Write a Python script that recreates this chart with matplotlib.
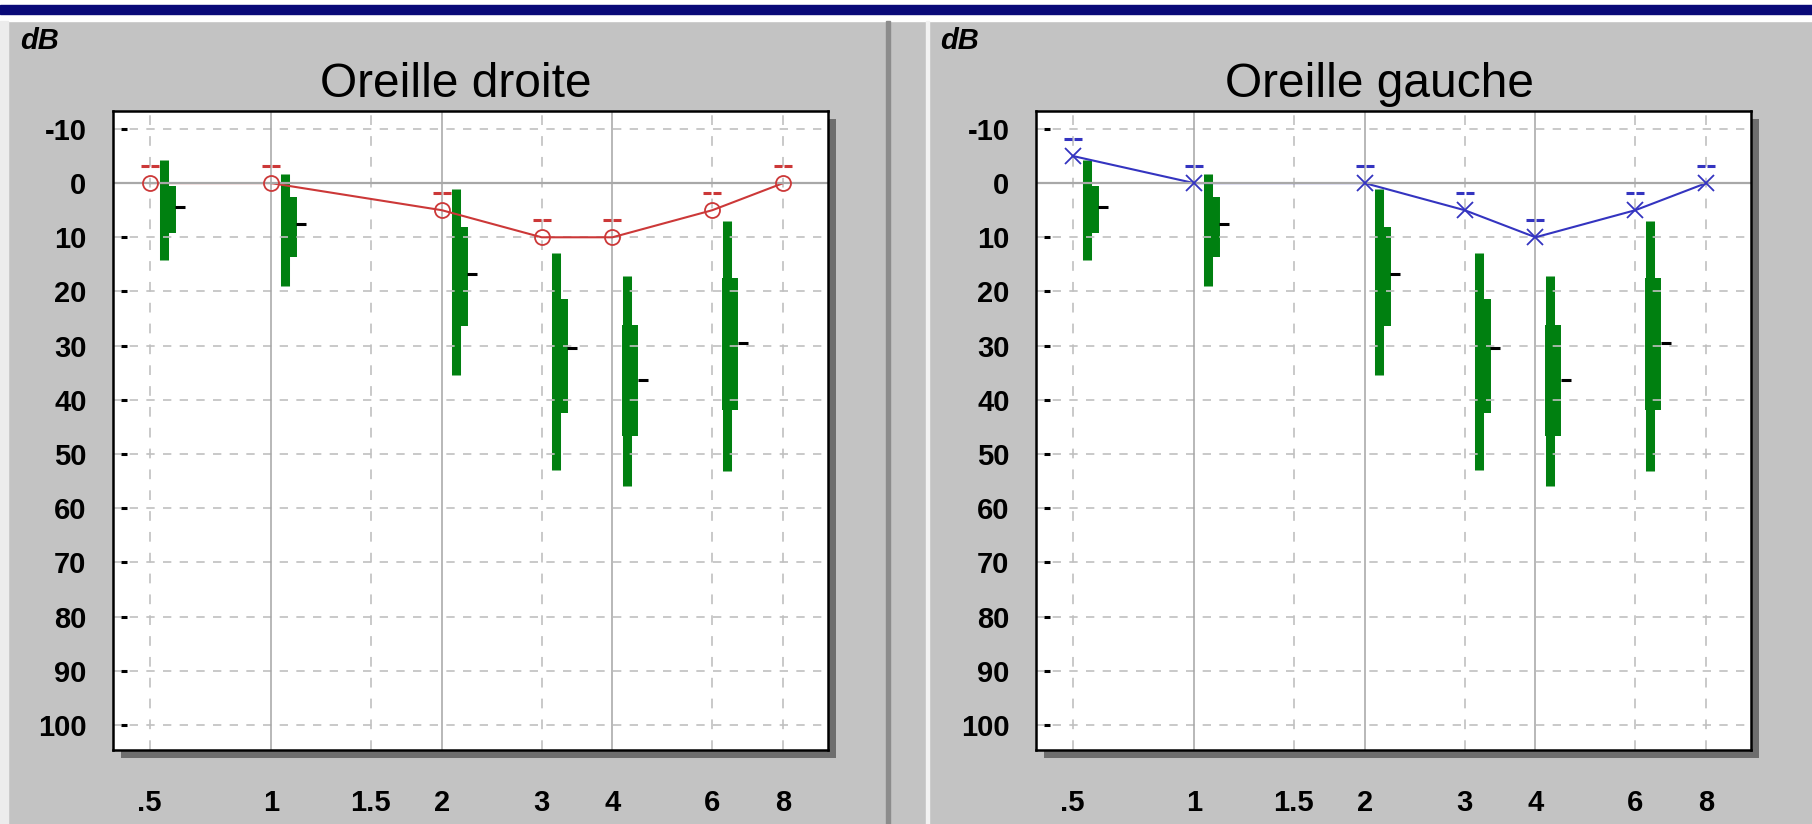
import numpy as np
import matplotlib
matplotlib.use('Agg')
import matplotlib.pyplot as plt
import matplotlib.patheffects as pe
from matplotlib import transforms
from matplotlib.path import Path
from matplotlib.patches import Rectangle

plt.rcParams['font.family'] = ['Liberation Sans', 'DejaVu Sans']
plt.rcParams['lines.scale_dashes'] = False

# fréquences (kHz) et seuils mesurés (dB)
freqs = [0.5, 1, 2, 3, 4, 6, 8]
droite_db = [0, 0, 5, 10, 10, 5, 0]     # oreille droite (rouge, O)
gauche_db = [-5, 0, 0, 5, 10, 5, 0]     # oreille gauche (bleu, X)

# axes
tick_freqs = [0.5, 1, 1.5, 2, 3, 4, 6, 8]
tick_labels = ['.5', '1', '1.5', '2', '3', '4', '6', '8']
octave_freqs = [1, 2, 4]
db_ticks = [-10, 0, 10, 20, 30, 40, 50, 60, 70, 80, 90, 100]
db_labels = ['-10', '0', '10', '20', '30', '40', '50', '60', '70', '80', '90', '100']

# normes (barres vertes): extrêmes, quartiles, médiane
norm_freqs = [0.5, 1, 2, 3, 4, 6]
norm_min = [-4.3, -1.6, 1.1, 12.9, 17.2, 7.0]
norm_max = [14.2, 19.0, 35.5, 53.0, 55.8, 53.1]
norm_q1 = [0.5, 2.6, 8.1, 21.4, 26.1, 17.6]
norm_q3 = [9.3, 13.6, 26.3, 42.5, 46.7, 41.9]
norm_med = [4.5, 7.6, 16.7, 30.4, 36.4, 29.5]

W, H = 1812, 824
GRAY = '#c3c3c3'
GREEN = '#008010'
RED = '#cc3838'
BLUE = '#3434c0'
LOW = 1.42  # compression de l'intervalle .5 - 1


def fwd(f):
    f = np.asarray(f, dtype=float)
    return np.where(f >= 1, np.log2(np.maximum(f, 1e-9)), (f - 1) * LOW)


def inv(u):
    u = np.asarray(u, dtype=float)
    return np.where(u >= 0, 2.0 ** u, 1 + u / LOW)


fig = plt.figure(figsize=(W / 100, H / 100), dpi=100, facecolor=GRAY)


def band(x0, y0, x1, y1, color):
    fig.patches.append(Rectangle((x0 / W, 1 - y1 / H), (x1 - x0) / W, (y1 - y0) / H,
                                 transform=fig.transFigure, color=color, zorder=0))


# cadre type fenêtre
band(0, 0, W, 21, 'white')
band(0, 5, W, 14, '#0a0a78')
band(0, 21, 8, H, '#ececec')
band(886, 21, 890, H, '#8c8c8c')
band(926, 21, 929, H, '#f2f2f2')

dash_path = Path([(-1, 0), (-0.12, 0), (0.12, 0), (1, 0)],
                 [Path.MOVETO, Path.LINETO, Path.MOVETO, Path.LINETO])


def draw_panel(x0, x1, title, values, color, marker, ms, dB_x):
    ax = fig.add_axes([x0 / W, 1 - 750 / H, (x1 - x0) / W, (750 - 111) / H])
    ax.set_xscale('function', functions=(fwd, inv))
    ax.set_xlim(float(inv(-0.925)), float(inv(3.262)))
    ax.set_ylim(104.6, -13.3)

    def shifted(dx, dy=0):
        return transforms.offset_copy(ax.transData, fig=fig, x=dx, y=dy, units='dots')

    # grille
    for y in db_ticks:
        if y == 0:
            ax.axhline(y, color='#a8a8a8', lw=1.6, zorder=2.5)
        else:
            ax.axhline(y, color='#c0c0c0', lw=1.2, dashes=(6, 6), zorder=1.5)
    for f in tick_freqs:
        if f in octave_freqs:
            ax.axvline(f, color='#a4a4a4', lw=1.1, zorder=1.5)
        else:
            ax.axvline(f, color='#c0c0c0', lw=1.2, dashes=(7, 8), zorder=1.5)

    # petits repères noirs à gauche
    yk = [y for y in db_ticks if y != 0]
    ax.plot([0.015] * len(yk), yk, ls='none', marker='_', ms=4, mew=2.2, color='black',
            transform=transforms.blended_transform_factory(ax.transAxes, ax.transData),
            zorder=3)

    # normes
    ax.vlines(norm_freqs, norm_min, norm_max, colors=GREEN, lw=6.5,
              transform=shifted(14.5), zorder=1, capstyle='butt')
    ax.vlines(norm_freqs, norm_q1, norm_q3, colors=GREEN, lw=11.5,
              transform=shifted(18), zorder=1, capstyle='butt')
    ax.plot(norm_freqs, norm_med, ls='none', marker='_', ms=6.5, mew=2.2, color='black',
            transform=shifted(30.5), zorder=1.2)

    # courbe
    ax.plot(freqs, values, color=color, lw=1.5, zorder=2)
    ax.plot(freqs, values, ls='none', marker=marker, ms=ms, mfc='none', mec=color,
            mew=1.3, zorder=3)
    ax.plot(freqs, values, ls='none', marker=dash_path, ms=13, mec=color, mew=2.2,
            transform=shifted(0, 17), zorder=3)

    ax.set_xticks(tick_freqs, labels=tick_labels, fontsize=21, fontweight='bold')
    ax.set_yticks(db_ticks, labels=db_labels, fontsize=21, fontweight='bold')
    ax.tick_params(axis='x', length=0, pad=28)
    ax.tick_params(axis='y', length=0, pad=19)
    ax.minorticks_off()

    for s in ax.spines.values():
        s.set_color('black')
        s.set_linewidth(1.8)
    ax.patch.set_facecolor('white')
    ax.patch.set_path_effects([pe.SimplePatchShadow(offset=(5.5, -5.5), shadow_rgbFace='#6e6e6e',
                                                    alpha=1.0), pe.Normal()])

    ax.set_title(title, fontsize=34.5, pad=10, x=0.48)
    fig.text(dB_x / W, 1 - 49 / H, 'dB', fontsize=21, fontweight='bold', style='italic',
             va='baseline', ha='left')
    return ax


draw_panel(113, 828, 'Oreille droite', droite_db, RED, 'o', 10.8, 20)
draw_panel(1036, 1751, 'Oreille gauche', gauche_db, BLUE, 'x', 11.5, 940)

fig.savefig('out.png', dpi=100, facecolor=GRAY)
